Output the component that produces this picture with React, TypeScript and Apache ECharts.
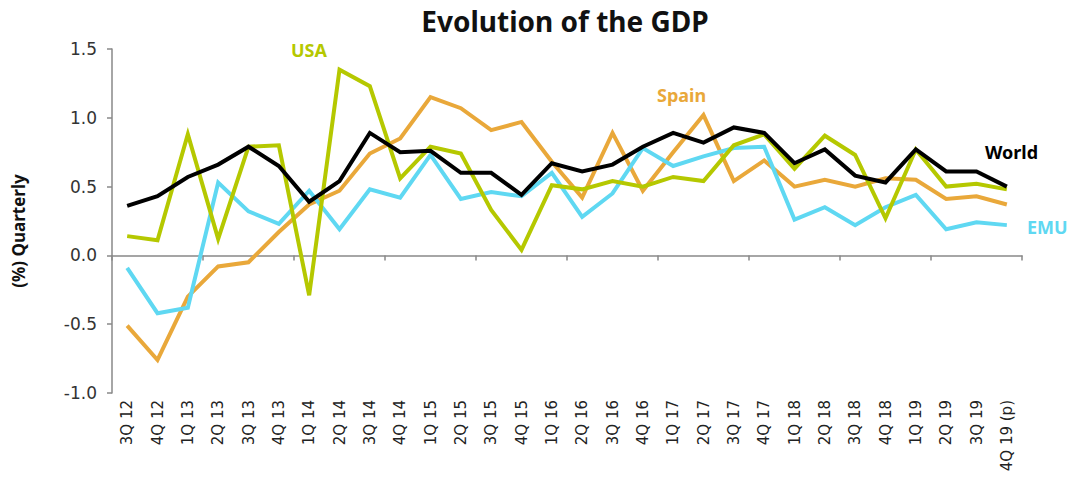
import React, { useEffect, useRef } from "react";
import * as echarts from "echarts";

const categories = [
  "3Q 12", "4Q 12", "1Q 13", "2Q 13", "3Q 13", "4Q 13", "1Q 14", "2Q 14", "3Q 14", "4Q 14",
  "1Q 15", "2Q 15", "3Q 15", "4Q 15", "1Q 16", "2Q 16", "3Q 16", "4Q 16", "1Q 17", "2Q 17",
  "3Q 17", "4Q 17", "1Q 18", "2Q 18", "3Q 18", "4Q 18", "1Q 19", "2Q 19", "3Q 19", "4Q 19 (p)",
];

const world = [
  0.36, 0.43, 0.57, 0.66, 0.79, 0.65, 0.39, 0.54, 0.89, 0.75,
  0.76, 0.60, 0.60, 0.44, 0.67, 0.61, 0.66, 0.79, 0.89, 0.82,
  0.93, 0.89, 0.67, 0.77, 0.58, 0.53, 0.77, 0.61, 0.61, 0.50,
];
const usa = [
  0.14, 0.11, 0.88, 0.12, 0.79, 0.80, -0.29, 1.35, 1.23, 0.56,
  0.79, 0.74, 0.33, 0.04, 0.51, 0.48, 0.54, 0.50, 0.57, 0.54,
  0.80, 0.88, 0.63, 0.87, 0.73, 0.27, 0.77, 0.50, 0.52, 0.48,
];
const spain = [
  -0.51, -0.76, -0.30, -0.08, -0.05, 0.17, 0.37, 0.47, 0.74, 0.85,
  1.15, 1.07, 0.91, 0.97, 0.68, 0.42, 0.89, 0.47, 0.75, 1.02,
  0.54, 0.69, 0.50, 0.55, 0.50, 0.56, 0.55, 0.41, 0.43, 0.37,
];
const emu = [
  -0.09, -0.42, -0.38, 0.53, 0.32, 0.23, 0.47, 0.19, 0.48, 0.42,
  0.73, 0.41, 0.46, 0.43, 0.60, 0.28, 0.45, 0.78, 0.65, 0.72,
  0.78, 0.79, 0.26, 0.35, 0.22, 0.35, 0.44, 0.19, 0.24, 0.22,
];

const yTicks = { min: -1, max: 1.5, interval: 0.5 };

const COLORS = {
  world: "#000000",
  usa: "#b5c800",
  spain: "#e9a83a",
  emu: "#5fd8f2",
};

const TITLE = "Evolution of the GDP";
const Y_NAME = "(%) Quarterly";

export default function App() {
  const ref = useRef<HTMLDivElement>(null);

  useEffect(() => {
    if (!ref.current) return;
    const chart = echarts.init(ref.current, null, { renderer: "svg" });
    const lineSeries = (name: string, data: number[], color: string, z: number) => ({
      name,
      type: "line",
      data,
      xAxisIndex: 0,
      yAxisIndex: 0,
      symbol: "none",
      z,
      lineStyle: { color, width: 4, join: "miter" },
      itemStyle: { color },
    });
    const labelFont = "'Noto Sans', 'Open Sans', sans-serif";
    chart.setOption({
      animation: false,
      backgroundColor: "#ffffff",
      title: {
        text: TITLE,
        left: 560,
        top: 2,
        textAlign: "center",
        textStyle: {
          fontFamily: labelFont,
          fontWeight: "bold",
          fontSize: 28,
          color: "#111111",
        },
      },
      grid: { left: 112, right: 51, top: 49, bottom: 93, containLabel: false },
      xAxis: [
        {
          type: "category",
          data: categories,
          boundaryGap: true,
          axisLine: { onZero: true, lineStyle: { color: "#888888", width: 1.5 } },
          axisTick: { show: true, length: 5, lineStyle: { color: "#888888", width: 1.5 } },
          axisLabel: { show: false },
          splitLine: { show: false },
        },
        {
          type: "category",
          data: categories,
          position: "bottom",
          boundaryGap: true,
          axisLine: { show: false, onZero: false },
          axisTick: { show: false },
          axisLabel: {
            rotate: 90,
            interval: 0,
            margin: 7,
            fontFamily: "'DejaVu Sans', sans-serif",
            fontSize: 15,
            color: "#222222",
          },
          splitLine: { show: false },
        },
      ],
      yAxis: {
        type: "value",
        min: yTicks.min,
        max: yTicks.max,
        interval: yTicks.interval,
        axisLine: { show: true, lineStyle: { color: "#888888", width: 1.5 } },
        axisTick: { show: true, length: 5, lineStyle: { color: "#888888", width: 1.5 } },
        splitLine: { show: false },
        axisLabel: {
          formatter: (v: number) => v.toFixed(1),
          margin: 15,
          fontFamily: "'DejaVu Sans', sans-serif",
          fontSize: 17,
          color: "#333333",
        },
      },
      series: [
        lineSeries("Spain", spain, COLORS.spain, 2),
        lineSeries("EMU", emu, COLORS.emu, 3),
        lineSeries("USA", usa, COLORS.usa, 4),
        lineSeries("World", world, COLORS.world, 5),
      ],
      graphic: [
        {
          type: "text",
          x: 18,
          y: 231,
          rotation: Math.PI / 2,
          style: {
            text: Y_NAME,
            fontFamily: labelFont,
            fontWeight: "bold",
            fontSize: 17,
            fill: "#111111",
            align: "center",
            verticalAlign: "middle",
          },
        },
        {
          type: "text",
          x: 291,
          y: 50,
          style: { text: "USA", fontFamily: labelFont, fontWeight: "bold", fontSize: 18, fill: COLORS.usa, align: "left", verticalAlign: "middle" },
        },
        {
          type: "text",
          x: 657,
          y: 95,
          style: { text: "Spain", fontFamily: labelFont, fontWeight: "bold", fontSize: 18, fill: COLORS.spain, align: "left", verticalAlign: "middle" },
        },
        {
          type: "text",
          x: 985,
          y: 152,
          style: { text: "World", fontFamily: labelFont, fontWeight: "bold", fontSize: 18, fill: COLORS.world, align: "left", verticalAlign: "middle" },
        },
        {
          type: "text",
          x: 1027,
          y: 227,
          style: { text: "EMU", fontFamily: labelFont, fontWeight: "bold", fontSize: 18, fill: COLORS.emu, align: "left", verticalAlign: "middle" },
        },
      ],
    });
    return () => chart.dispose();
  }, []);

  return (
    <div
      ref={ref}
      style={{ position: "fixed", left: 0, top: 0, width: 1073, height: 486, background: "#fff" }}
    />
  );
}
